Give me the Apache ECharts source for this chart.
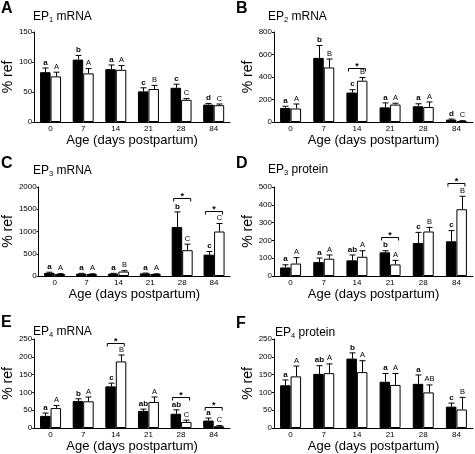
<!DOCTYPE html>
<html><head><meta charset="utf-8">
<script src="https://cdn.jsdelivr.net/npm/echarts@6/dist/echarts.min.js"></script>
<style>html,body{margin:0;padding:0;background:#fff}#c{width:475px;height:454px}</style>
</head><body><div id="c"></div><script>
// ---- data ----
const categories = ['0', '7', '14', '21', '28', '84'];

// A: EP1 mRNA
const aBlack = [83, 104, 88, 51, 57, 29];
const aBlackErr = [7, 7, 7, 6, 6, 2];
const aWhite = [76, 81, 87, 55, 37, 28];
const aWhiteErr = [7, 8, 7, 6, 2, 2];
const aBlackLetters = ['a', 'b', 'a', 'c', 'c', 'd'];
const aWhiteLetters = ['A', 'A', 'A', 'B', 'C', 'C'];
const aSig = [null, null, null, null, null, null];
const aTicks = [0, 50, 100, 150];

// B: EP2 mRNA
const bBlack = [125, 570, 262, 130, 140, 21];
const bBlackErr = [15, 110, 25, 40, 22, 5];
const bWhite = [120, 485, 367, 155, 133, 9];
const bWhiteErr = [40, 75, 28, 12, 45, 3];
const bBlackLetters = ['a', 'b', 'c', 'a', 'a', 'd'];
const bWhiteLetters = ['A', 'B', 'B', 'A', 'A', 'C'];
const bSig = [null, null, 484, null, null, null];
const bTicks = [0, 200, 400, 600, 800];

// C: EP3 mRNA
const cBlack = [70, 52, 52, 58, 1100, 480];
const cBlackErr = [15, 8, 8, 8, 340, 70];
const cWhite = [45, 45, 100, 45, 580, 1000];
const cWhiteErr = [8, 5, 20, 5, 135, 180];
const cBlackLetters = ['a', 'a', 'a', 'a', 'b', 'c'];
const cWhiteLetters = ['A', 'A', 'B', 'A', 'C', 'C'];
const cSig = [null, null, null, null, 1750, 1450];
const cTicks = [0, 500, 1000, 1500, 2000];

// D: EP3 protein
const dBlack = [48, 78, 88, 133, 185, 195];
const dBlackErr = [15, 23, 30, 9, 60, 60];
const dWhite = [70, 97, 108, 65, 250, 375];
const dWhiteErr = [33, 21, 34, 23, 23, 73];
const dBlackLetters = ['a', 'a', 'ab', 'b', 'c', 'c'];
const dWhiteLetters = ['A', 'A', 'A', 'A', 'B', 'B'];
const dSig = [null, null, null, 219, null, 522];
const dTicks = [0, 100, 200, 300, 400, 500];

// E: EP4 mRNA
const eBlack = [34, 76, 117, 48, 40, 21];
const eBlackErr = [8, 6, 9, 5, 11, 7];
const eWhite = [56, 75, 187, 73, 17, 5];
const eWhiteErr = [7, 12, 18, 14, 5, 2];
const eBlackLetters = ['a', 'b', 'c', 'ab', 'ab', 'a'];
const eWhiteLetters = ['A', 'A', 'B', 'A', 'C', 'C'];
const eSig = [null, null, 239, null, 87, 58];
const eTicks = [0, 50, 100, 150, 200, 250];

// F: EP4 protein
const fBlack = [120, 152, 195, 130, 124, 60];
const fBlackErr = [15, 23, 16, 23, 25, 10];
const fWhite = [145, 154, 157, 121, 100, 52];
const fWhiteErr = [29, 26, 32, 32, 21, 34];
const fBlackLetters = ['a', 'ab', 'b', 'a', 'a', 'c'];
const fWhiteLetters = ['A', 'A', 'A', 'A', 'AB', 'B'];
const fSig = [null, null, null, null, null, null];
const fTicks = [0, 50, 100, 150, 200, 250];

const panelLetters = ['A', 'B', 'C', 'D', 'E', 'F'];
const panelTitles = [['EP', '1', ' mRNA'], ['EP', '2', ' mRNA'], ['EP', '3', ' mRNA'],
                     ['EP', '3', ' protein'], ['EP', '4', ' mRNA'], ['EP', '4', ' protein']];
const xName = 'Age (days postpartum)';
const yName = '% ref';

// ---- layout ----
const FONT = "'Liberation Sans', Arial, Helvetica, sans-serif";
const BAR_W = 10.5;
const layout = [
  {grid: [31, 32, 199, 90], letter: [1, 1], title: [33, 10]},
  {grid: [274, 32, 199, 90], letter: [236, 1], title: [268, 10]},
  {grid: [31, 187, 199, 89], letter: [1, 155.5], title: [33, 163.5]},
  {grid: [274, 187, 199, 89], letter: [236, 155.5], title: [268, 163]},
  {grid: [31, 339, 199, 89], letter: [1, 314.5], title: [33, 325]},
  {grid: [274, 339, 199, 89], letter: [236, 315.5], title: [275, 326]}
];
const panels = [
  [aBlack, aBlackErr, aWhite, aWhiteErr, aBlackLetters, aWhiteLetters, aSig, aTicks],
  [bBlack, bBlackErr, bWhite, bWhiteErr, bBlackLetters, bWhiteLetters, bSig, bTicks],
  [cBlack, cBlackErr, cWhite, cWhiteErr, cBlackLetters, cWhiteLetters, cSig, cTicks],
  [dBlack, dBlackErr, dWhite, dWhiteErr, dBlackLetters, dWhiteLetters, dSig, dTicks],
  [eBlack, eBlackErr, eWhite, eWhiteErr, eBlackLetters, eWhiteLetters, eSig, eTicks],
  [fBlack, fBlackErr, fWhite, fWhiteErr, fBlackLetters, fWhiteLetters, fSig, fTicks]
];

function errSeries(p, vals, errs, letters, side, bold) {
  return {
    type: 'custom', xAxisIndex: p, yAxisIndex: p, clip: false, z: 5,
    data: vals.map((v, i) => [i, v, errs[i]]),
    renderItem: function (params, api) {
      const i = api.value(0), v = api.value(1), e = api.value(2);
      const c = api.coord([i, v]);
      const t = api.coord([i, v + e]);
      const x = Math.round(c[0] + side * BAR_W / 2) + 0.5;
      const cap = 3;
      return {
        type: 'group',
        children: [
          {type: 'line', shape: {x1: x, y1: c[1], x2: x, y2: t[1]}, style: {stroke: '#000', lineWidth: 1}},
          {type: 'line', shape: {x1: x - cap, y1: t[1], x2: x + cap, y2: t[1]}, style: {stroke: '#000', lineWidth: 1}},
          {type: 'text', style: {text: letters[params.dataIndex], x: x, y: t[1] - 1.5,
            align: 'center', verticalAlign: 'bottom', fill: '#000',
            font: (bold ? 'bold 8px ' : '7.5px ') + FONT}}
        ]
      };
    }
  };
}

function sigSeries(p, sig) {
  const data = [];
  sig.forEach((h, i) => { if (h != null) data.push([i, h]); });
  return {
    type: 'custom', xAxisIndex: p, yAxisIndex: p, clip: false, z: 6,
    data: data,
    renderItem: function (params, api) {
      const c = api.coord([api.value(0), api.value(1)]);
      const y = Math.round(c[1]) + 0.5;
      const x1 = c[0] - 8.5, x2 = c[0] + 8.5;
      return {
        type: 'group',
        children: [
          {type: 'polyline', shape: {points: [[x1, y + 3], [x1, y], [x2, y], [x2, y + 3]]},
            style: {stroke: '#000', lineWidth: 1, fill: null}},
          {type: 'text', style: {text: '*', x: c[0], y: y + 3, align: 'center', verticalAlign: 'bottom',
            fill: '#000', font: 'bold 9px ' + FONT}}
        ]
      };
    }
  };
}

const grid = [], xAxis = [], yAxis = [], series = [], title = [];
panels.forEach((pd, p) => {
  const [blk, blkE, wht, whtE, blkL, whtL, sig, ticks] = pd;
  const g = layout[p].grid;
  grid.push({left: g[0], top: g[1], width: g[2], height: g[3]});
  xAxis.push({
    type: 'category', gridIndex: p, data: categories,
    axisLine: {lineStyle: {color: '#000', width: 1}},
    axisTick: {show: false},
    axisLabel: {color: '#000', fontSize: 8, fontFamily: FONT, margin: 3},
    name: xName, nameLocation: 'middle', nameGap: 10,
    nameTextStyle: {color: '#000', fontSize: 13, fontFamily: FONT, verticalAlign: 'top'}
  });
  yAxis.push({
    type: 'value', gridIndex: p, min: ticks[0], max: ticks[ticks.length - 1],
    interval: ticks[1] - ticks[0],
    axisLine: {show: true, lineStyle: {color: '#000', width: 1}},
    axisTick: {show: true, length: 2, lineStyle: {color: '#000'}},
    splitLine: {show: false},
    axisLabel: {color: '#000', fontSize: 8, fontFamily: FONT, margin: 2, formatter: (v) => String(v)},
    name: yName, nameLocation: 'middle', nameGap: 19, nameRotate: 90,
    nameTextStyle: {color: '#000', fontSize: 14, fontFamily: FONT}
  });
  series.push({
    type: 'bar', xAxisIndex: p, yAxisIndex: p, data: blk, barWidth: BAR_W, barGap: '0%',
    itemStyle: {color: '#000', borderColor: '#000', borderWidth: 1}, silent: true, z: 3
  });
  series.push({
    type: 'bar', xAxisIndex: p, yAxisIndex: p, data: wht, barWidth: BAR_W, barGap: '0%',
    itemStyle: {color: '#fff', borderColor: '#000', borderWidth: 1}, silent: true, z: 3
  });
  series.push(errSeries(p, blk, blkE, blkL, -1, true));
  series.push(errSeries(p, wht, whtE, whtL, 1, false));
  series.push(sigSeries(p, sig));
  title.push({
    text: panelLetters[p], left: layout[p].letter[0], top: layout[p].letter[1], padding: 0,
    textStyle: {fontSize: 16, fontWeight: 'bold', fontFamily: FONT, color: '#000', lineHeight: 16}
  });
  const tt = panelTitles[p];
  title.push({
    text: '{m|' + tt[0] + '}{s|' + tt[1] + '}{m|' + tt[2] + '}',
    left: layout[p].title[0], top: layout[p].title[1], padding: 0,
    textStyle: {
      fontWeight: 'normal',
      rich: {
        m: {fontSize: 12, fontWeight: 'normal', fontFamily: FONT, color: '#000', lineHeight: 14},
        s: {fontSize: 7.5, fontWeight: 'normal', fontFamily: FONT, color: '#000', lineHeight: 8, verticalAlign: 'bottom'}
      }
    }
  });
});

const chart = echarts.init(document.getElementById('c'), null, {renderer: 'canvas'});
chart.setOption({animation: false, backgroundColor: '#fff', title, grid, xAxis, yAxis, series});
</script></body></html>
